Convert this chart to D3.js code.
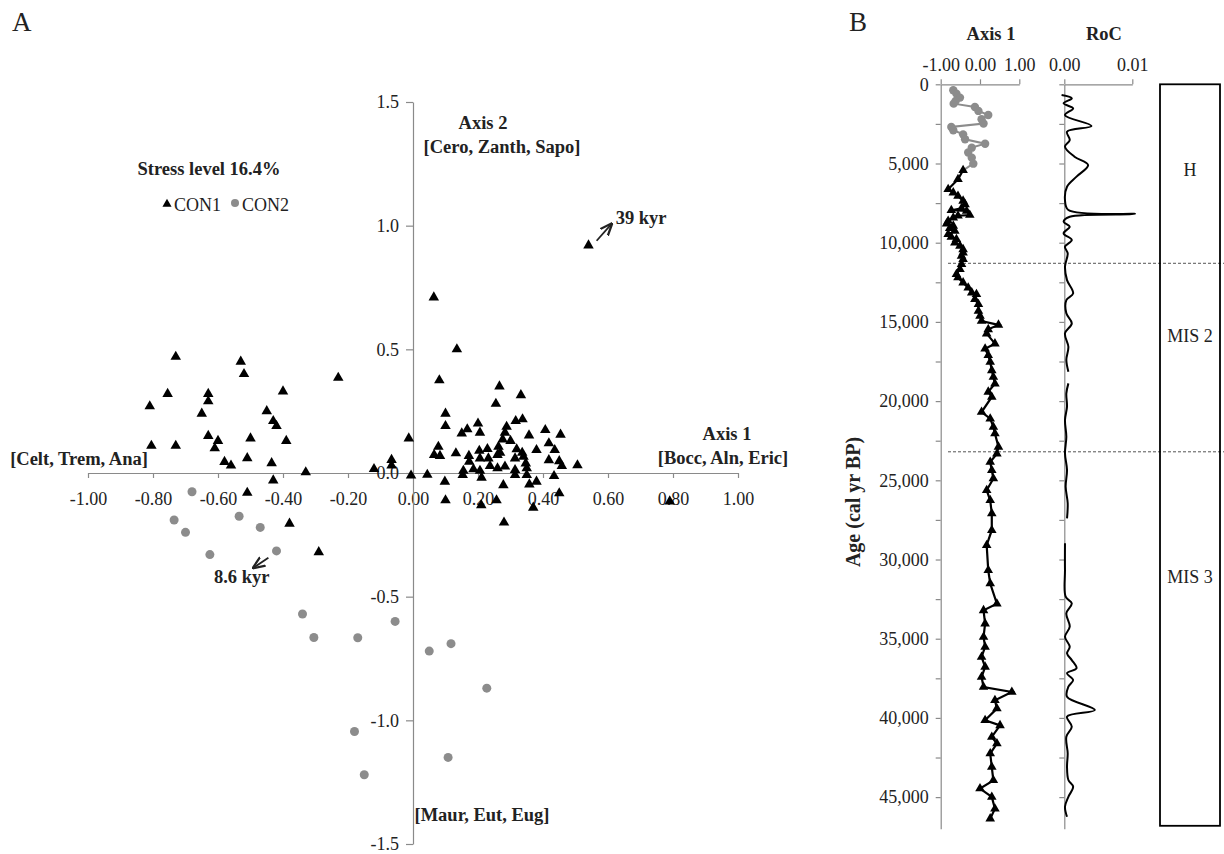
<!DOCTYPE html>
<html>
<head>
<meta charset="utf-8">
<script src="https://cdn.jsdelivr.net/npm/d3@7"></script>
<style>
  body { margin: 0; background: #fff; }
  svg { display: block; font-family: "Liberation Serif", "Times New Roman", serif; }
</style>
</head>
<body>
<svg id="canvas" width="1224" height="854"></svg>
<script>
// ---- panel A: NMDS scores (axis 1, axis 2) ----
let con1Points = [
  [-0.73,0.47],[-0.53,0.45],[-0.52,0.40],[-0.23,0.385],[-0.755,0.32],[-0.63,0.32],[-0.63,0.29],[-0.40,0.33],
  [-0.81,0.27],[-0.65,0.24],[-0.45,0.25],[-0.43,0.21],[-0.42,0.19],[-0.805,0.11],[-0.73,0.11],[-0.63,0.15],
  [-0.60,0.13],[-0.61,0.10],[-0.50,0.14],[-0.39,0.13],[-0.58,0.045],[-0.56,0.03],[-0.51,0.06],[-0.435,0.04],
  [-0.33,0.003],[-0.43,-0.03],[-0.51,-0.08],[-0.38,-0.205],[-0.29,-0.32],
  [-0.013,0.14],[-0.066,0.053],[-0.066,0.03],[-0.12,0.016],[-0.006,-0.01],[0.044,-0.007],
  [0.54,0.92],[0.064,0.71],[0.135,0.50],[0.081,0.375],[0.266,0.35],[0.332,0.315],[0.255,0.28],[0.10,0.24],
  [0.10,0.19],[0.20,0.20],[0.316,0.21],[0.337,0.217],[0.15,0.16],[0.167,0.177],[0.206,0.163],[0.288,0.187],
  [0.283,0.163],[0.357,0.152],[0.407,0.174],[0.454,0.155],[0.276,0.136],[0.30,0.13],[0.078,0.106],[0.065,0.073],
  [0.083,0.069],[0.132,0.08],[0.172,0.069],[0.204,0.09],[0.229,0.097],[0.263,0.106],[0.268,0.082],[0.319,0.096],
  [0.336,0.082],[0.38,0.093],[0.418,0.12],[0.436,0.093],[0.418,0.052],[0.45,0.048],[0.458,0.028],[0.506,0.031],
  [0.098,-0.035],[0.153,-0.008],[0.155,0.009],[0.186,0.015],[0.206,0.009],[0.211,-0.019],[0.173,0.046],[0.206,0.059],
  [0.232,0.059],[0.237,0.028],[0.26,0.073],[0.26,0.019],[0.283,0.026],[0.278,-0.049],[0.314,0.059],[0.314,0.012],
  [0.314,-0.008],[0.34,0.066],[0.347,0.039],[0.35,0.019],[0.35,-0.008],[0.358,-0.046],[0.38,-0.035],[0.434,-0.012],
  [0.45,-0.082],[0.10,-0.11],[0.21,-0.13],[0.257,-0.11],[0.28,-0.20],[0.37,-0.14],[0.79,-0.115]
]
let con2Points = [
  [-0.68,-0.076],[-0.735,-0.19],[-0.70,-0.24],[-0.535,-0.175],[-0.47,-0.22],[-0.625,-0.33],[-0.42,-0.315],
  [-0.34,-0.57],[-0.305,-0.665],[-0.17,-0.666],[-0.055,-0.60],[0.05,-0.72],[0.117,-0.69],[0.227,-0.87],
  [-0.18,-1.045],[-0.15,-1.22],[0.108,-1.15]
]
let xTicksA = [-1, -0.8, -0.6, -0.4, -0.2, 0, 0.2, 0.4, 0.6, 0.8, 1]
let yTicksA = [-1.5, -1, -0.5, 0, 0.5, 1, 1.5]

// ---- panel B: axis 1 score and rate of change against age ----
let con2Age   = [380,590,840,1050,1220,1430,1680,1940,2210,2480,2690,2900,3160,3470,3750,4000,4310,4630,5010]
let con2Score = [-0.68,-0.60,-0.51,-0.62,-0.67,-0.13,-0.04,0.21,0.04,0.09,-0.73,-0.68,-0.43,-0.38,0.13,-0.21,-0.30,-0.21,-0.17]

let con1Age = [5430,6000,6630,6840,7050,7360,7580,7830,7950,8000,8250,8300,8420,8630,8800,8940,9090,9260,9470,9640,
  9780,10000,10200,10420,10630,10840,11050,11360,11680,11990,12200,12520,12840,13150,13260,13570,13890,14310,14620,14940,
  15190,15470,15740,16370,16690,17110,17530,18060,18480,18900,19420,19740,20690,21110,21630,22050,22890,23320,23840,24370,
  24890,25630,26260,27100,28150,29100,30680,31520,32790,33210,34050,34890,35520,36150,36780,37420,38050,38360,38890,39410,
  40150,40470,41200,41620,42250,43100,43940,44460,44990,45730,46360]
let con1Score = [-0.43,-0.56,-0.81,-0.68,-0.56,-0.43,-0.38,-0.47,-0.73,-0.34,-0.26,-0.56,-0.68,-0.81,-0.85,-0.68,-0.77,-0.64,-0.81,-0.73,
  -0.60,-0.64,-0.51,-0.43,-0.43,-0.47,-0.43,-0.47,-0.51,-0.60,-0.56,-0.43,-0.30,-0.21,-0.09,-0.13,-0.04,-0.04,0.00,0.04,
  0.47,0.21,0.17,0.38,0.13,0.21,0.26,0.30,0.34,0.38,0.21,0.30,0.04,0.26,0.34,0.38,0.47,0.43,0.26,0.30,
  0.34,0.17,0.26,0.30,0.30,0.17,0.21,0.26,0.43,0.09,0.13,0.09,0.13,0.04,0.13,0.04,0.09,0.81,0.38,0.43,
  0.13,0.51,0.30,0.43,0.26,0.30,0.34,0.00,0.30,0.38,0.26]

// null marks a gap in the RoC curve
let rocAge = [680,890,1200,1520,1940,2630,2990,3520,3940,4570,5100,5830,6470,7300,7940,8190,8360,8670,8990,9410,
  9830,10250,10670,11520,12360,13200,13620,14460,15090,15720,16570,17410,18140,18200,
  18880,19510,20350,21190,22250,23300,24350,25400,26450,27400,28000,
  28980,30660,32350,32770,33400,34240,34870,35510,35930,36350,36870,37180,37610,38030,38660,39500,39920,40560,41190,
  42240,43080,43920,44340,44980,45610,46240]
let rocValue = [-0.0004,0.0011,-0.0001,0.0013,0.0001,0.0040,0.0004,0.0008,0.0001,0.0015,0.0035,0.0018,0.0004,0.0001,0.0006,0.0104,0.0008,-0.0001,0.0008,-0.0001,
  0.0011,0.0001,0.0005,0.0001,0.0004,0.0013,0.0003,0.0003,0.0011,0.0001,0.0006,0.0003,0.0006,null,
  0.0006,0.0003,0.0004,0.0001,0.0003,0.0001,0.0004,0.0002,0.0005,0.0004,null,
  0.0001,0.0001,0.0002,0.0011,0.0003,0.0008,0.0001,0.0008,0.0004,0.0011,0.0018,0.0004,0.0013,0.0006,0.0004,0.0045,0.0004,0.0011,0.0003,
  0.0005,0.0004,0.0006,0.0013,0.0006,0.0001,0.0004]

let zoneBoundaries = [11300, 23200]
let zoneNames = ['H', 'MIS 2', 'MIS 3']
let zoneLabelAge = [5400, 15900, 31100]
let ageTicks = d3.range(0, 47001, 2500)
let axis1Ticks = [-1, 0, 1]
let rocTicks = [0, 0.01]

let canvas = d3.select('#canvas')
let ink = '#222'
let axisGrey = '#8a8a8a'
let serif = '"Liberation Serif", "Times New Roman", serif'

// hyphen instead of unicode minus, as in the original figure
let fmt = (spec) => {
  let f = d3.format(spec)
  return (v) => f(v).replace('\u2212', '-')
}

canvas.append('rect').attr('width', 1224).attr('height', 854).attr('fill', '#fff')

canvas.append('defs').append('marker')
  .attr('id', 'arrow')
  .attr('viewBox', '0 0 10 10')
  .attr('refX', 9).attr('refY', 5)
  .attr('markerWidth', 7).attr('markerHeight', 7)
  .attr('orient', 'auto')
  .append('path')
  .attr('d', 'M0,1 L10,5 L0,9')
  .attr('fill', 'none')
  .attr('stroke', ink)
  .attr('stroke-width', 1.8)

let styleAxis = (g) => {
  g.select('.domain').attr('stroke', axisGrey).attr('stroke-width', 1.2)
  g.selectAll('.tick line').attr('stroke', axisGrey).attr('stroke-width', 1.2)
  g.selectAll('.tick text').attr('fill', ink).style('font-size', '18px').style('font-family', serif)
}

// ================= panel A =================
let xA = d3.scaleLinear().domain([-1, 1]).range([88, 738])
let yA = d3.scaleLinear().domain([-1.5, 1.5]).range([844, 102])

canvas.append('g')
  .attr('transform', 'translate(0,' + yA(0) + ')')
  .call(d3.axisBottom(xA).tickValues(xTicksA).tickFormat(fmt('.2f')).tickSize(5).tickPadding(14).tickSizeOuter(0))
  .call(styleAxis)

canvas.append('g')
  .attr('transform', 'translate(' + xA(0) + ',0)')
  .call(d3.axisLeft(yA).tickValues(yTicksA).tickFormat(fmt('.1f')).tickSize(7).tickPadding(7).tickSizeOuter(0))
  .call(styleAxis)

let triangleA = d3.symbol().type(d3.symbolTriangle).size(48)

canvas.append('g').selectAll('path')
  .data(con1Points)
  .enter()
  .append('path')
  .attr('d', triangleA)
  .attr('transform', (p) => 'translate(' + xA(p[0]) + ',' + yA(p[1]) + ')')
  .attr('fill', '#000')

canvas.append('g').selectAll('circle')
  .data(con2Points)
  .enter()
  .append('circle')
  .attr('cx', (p) => xA(p[0]))
  .attr('cy', (p) => yA(p[1]))
  .attr('r', 4.5)
  .attr('fill', '#8c8c8c')

let boldText = (x, y, txt, anchor, size) => {
  return canvas.append('text')
    .attr('x', x).attr('y', y)
    .attr('text-anchor', anchor || 'middle')
    .attr('dominant-baseline', 'central')
    .attr('font-weight', 'bold')
    .attr('font-size', size || 18.5)
    .attr('fill', ink)
    .text(txt)
}

boldText(209, 169, 'Stress level 16.4%')
boldText(483, 123, 'Axis 2')
boldText(502, 147, '[Cero, Zanth, Sapo]')
boldText(727, 434, 'Axis 1')
boldText(723, 458, '[Bocc, Aln, Eric]')
boldText(79, 459, '[Celt, Trem, Ana]')
boldText(482, 815, '[Maur, Eut, Eug]')

// legend
canvas.append('path')
  .attr('d', d3.symbol().type(d3.symbolTriangle).size(36))
  .attr('transform', 'translate(167,204)')
canvas.append('text').attr('x', 174).attr('y', 205).attr('dominant-baseline', 'central')
  .attr('font-size', 18).attr('fill', ink).text('CON1')
canvas.append('circle').attr('cx', 235).attr('cy', 203).attr('r', 4).attr('fill', '#8c8c8c')
canvas.append('text').attr('x', 242).attr('y', 205).attr('dominant-baseline', 'central')
  .attr('font-size', 18).attr('fill', ink).text('CON2')

// annotations
canvas.append('line')
  .attr('x1', xA(0.565)).attr('y1', yA(0.939))
  .attr('x2', xA(0.611)).attr('y2', yA(1.007))
  .attr('stroke', ink).attr('stroke-width', 1.8).attr('marker-end', 'url(#arrow)')
boldText(xA(0.6235), yA(1.031), '39 kyr', 'start')

canvas.append('line')
  .attr('x1', xA(-0.445)).attr('y1', yA(-0.3425))
  .attr('x2', xA(-0.491)).attr('y2', yA(-0.383))
  .attr('stroke', ink).attr('stroke-width', 1.8).attr('marker-end', 'url(#arrow)')
boldText(xA(-0.527), yA(-0.42), '8.6 kyr')

// panel letters
canvas.append('text').attr('x', 12).attr('y', 31).attr('font-size', 27).attr('fill', ink).text('A')
canvas.append('text').attr('x', 849).attr('y', 31).attr('font-size', 27).attr('fill', ink).text('B')

// ================= panel B =================
let yB = d3.scaleLinear().domain([0, 47000]).range([84.3, 828.8])
let xB = d3.scaleLinear().domain([-1, 1]).range([940.7, 1019.3])
let xR = d3.scaleLinear().domain([0, 0.01]).range([1064.3, 1132.3])

// zone boundaries (dotted)
canvas.append('g').selectAll('line')
  .data(zoneBoundaries)
  .enter()
  .append('line')
  .attr('x1', 948).attr('x2', 1224)
  .attr('y1', (a) => yB(a)).attr('y2', (a) => yB(a))
  .attr('stroke', '#555').attr('stroke-width', 1).attr('stroke-dasharray', '3,2')

canvas.append('g')
  .attr('transform', 'translate(' + xB(-1) + ',0)')
  .call(d3.axisLeft(yB).tickValues(ageTicks)
    .tickFormat((a) => a % 5000 === 0 ? d3.format(',')(a) : '')
    .tickSize(5).tickPadding(7).tickSizeOuter(0))
  .call(styleAxis)

canvas.append('g')
  .attr('transform', 'translate(0,' + yB(0) + ')')
  .call(d3.axisTop(xB).tickValues(axis1Ticks).tickFormat(fmt('.2f')).tickSize(5).tickPadding(8).tickSizeOuter(0))
  .call(styleAxis)

canvas.append('g')
  .attr('transform', 'translate(' + xR(0) + ',0)')
  .call(d3.axisLeft(yB).tickValues(ageTicks).tickFormat('').tickSize(5).tickSizeOuter(0))
  .call(styleAxis)

canvas.append('g')
  .attr('transform', 'translate(0,' + yB(0) + ')')
  .call(d3.axisTop(xR).tickValues(rocTicks).tickFormat(fmt('.2f')).tickSize(5).tickPadding(8).tickSizeOuter(0))
  .call(styleAxis)

boldText(991, 34, 'Axis 1')
boldText(1104, 34, 'RoC')

canvas.append('text')
  .attr('transform', 'translate(853,502) rotate(-90)')
  .attr('text-anchor', 'middle')
  .attr('dominant-baseline', 'central')
  .attr('font-weight', 'bold')
  .attr('font-size', 20)
  .attr('fill', ink)
  .text('Age (cal yr BP)')

// CON2 series
let con2Series = con2Age.map((a, i) => [con2Score[i], a])
let con1Series = con1Age.map((a, i) => [con1Score[i], a])

let scoreLine = d3.line()
  .x((d) => xB(d[0]))
  .y((d) => yB(d[1]))

canvas.append('path')
  .datum(con2Series.concat([con1Series[0]]))
  .attr('d', scoreLine)
  .attr('fill', 'none').attr('stroke', '#8c8c8c').attr('stroke-width', 2)

canvas.append('path')
  .datum(con1Series)
  .attr('d', scoreLine)
  .attr('fill', 'none').attr('stroke', '#000').attr('stroke-width', 2.2)

canvas.append('g').selectAll('circle')
  .data(con2Series)
  .enter()
  .append('circle')
  .attr('cx', (d) => xB(d[0]))
  .attr('cy', (d) => yB(d[1]))
  .attr('r', 4.2)
  .attr('fill', '#8c8c8c')

canvas.append('g').selectAll('path')
  .data(con1Series)
  .enter()
  .append('path')
  .attr('d', d3.symbol().type(d3.symbolTriangle).size(40))
  .attr('transform', (d) => 'translate(' + xB(d[0]) + ',' + yB(d[1]) + ')')
  .attr('fill', '#000')

// RoC
let rocSeries = rocAge.map((a, i) => [rocValue[i], a])
let rocLine = d3.line()
  .defined((d) => d[0] !== null)
  .x((d) => xR(d[0]))
  .y((d) => yB(d[1]))
  .curve(d3.curveCatmullRom)

canvas.append('path')
  .datum(rocSeries)
  .attr('d', rocLine)
  .attr('fill', 'none').attr('stroke', '#000').attr('stroke-width', 2)

// zone column
canvas.append('rect')
  .attr('x', 1160).attr('y', yB(0))
  .attr('width', 60).attr('height', yB(47000) - yB(0) - 3)
  .attr('fill', 'none').attr('stroke', '#000').attr('stroke-width', 1.8)

canvas.append('g').selectAll('text')
  .data(zoneNames)
  .enter()
  .append('text')
  .attr('x', 1190)
  .attr('y', (z, i) => yB(zoneLabelAge[i]))
  .attr('text-anchor', 'middle')
  .attr('dominant-baseline', 'central')
  .attr('font-size', 18)
  .attr('fill', ink)
  .text((z) => z)
</script>
</body>
</html>
